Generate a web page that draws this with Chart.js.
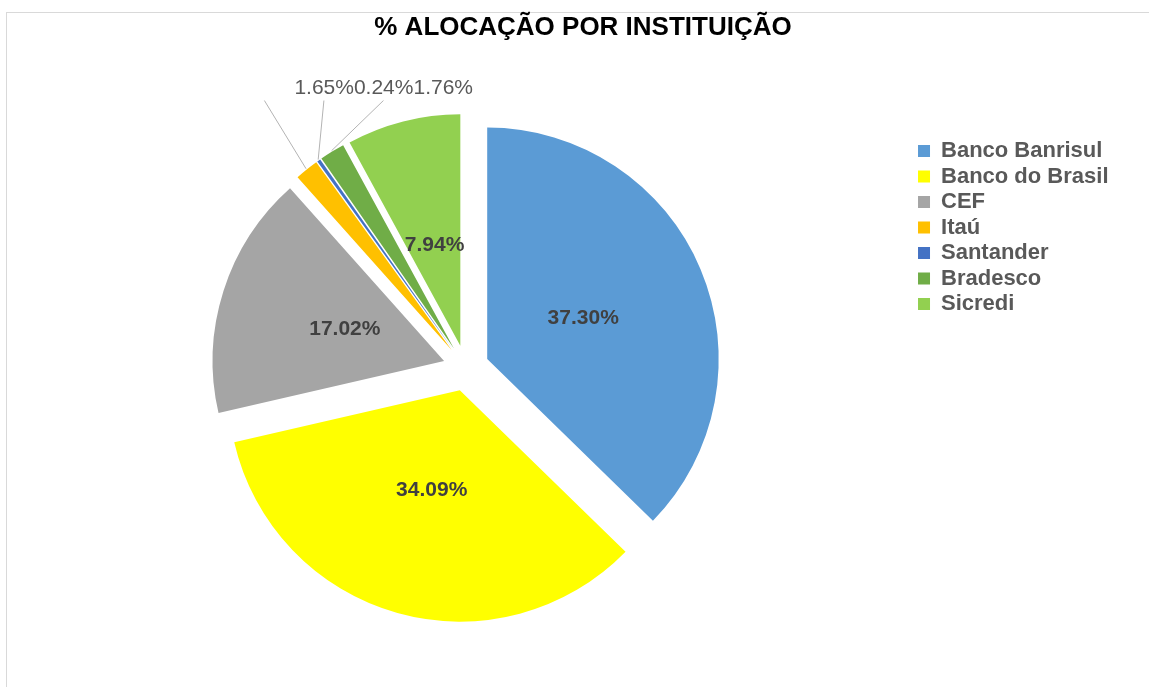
<!DOCTYPE html>
<html>
<head>
<meta charset="utf-8">
<title>% Alocação por Instituição</title>
<script src="https://cdn.jsdelivr.net/npm/chart.js@4.4.1/dist/chart.umd.min.js"></script>
<style>
  html, body { margin: 0; padding: 0; background: #fff; overflow: hidden; }
  #frame {
    position: absolute; left: 6px; top: 12px; width: 1200px; height: 700px;
    border-top: 1px solid #d9d9d9; border-left: 1px solid #d9d9d9;
  }
  #chart { position: absolute; left: 0; top: 0; }
</style>
</head>
<body>
<div id="frame"></div>
<canvas id="chart" width="1149" height="687"></canvas>
<script>
// values (percent of total)
const institutions = ['Banco Banrisul', 'Banco do Brasil', 'CEF', 'Itaú', 'Santander', 'Bradesco', 'Sicredi'];
const allocation = [37.30, 34.09, 17.02, 1.65, 0.24, 1.76, 7.94];
const sliceColors = ['#5B9BD5', '#FFFF00', '#A5A5A5', '#FFC000', '#4472C4', '#70AD47', '#92D050'];

const EXPLODE = 23;      // how far each slice is pulled out
const SMALL = 5;         // slices under this get their label outside

Chart.defaults.font.family = '"Liberation Sans", Arial, sans-serif';

// draw each arc moved out along its middle angle (Chart.js "offset" also grows small slices)
const explodePlugin = {
  id: 'explode',
  beforeDatasetDraw(chart, args) {
    const ctx = chart.ctx;
    args.meta.data.forEach(arc => {
      const mid = (arc.startAngle + arc.endAngle) / 2;
      ctx.save();
      ctx.translate(Math.cos(mid) * EXPLODE, Math.sin(mid) * EXPLODE);
      arc.draw(ctx);
      ctx.restore();
    });
    return false;
  }
};

// percent labels, inside for big slices, in a row above with leader lines for small ones
const labelPlugin = {
  id: 'pctLabels',
  afterDatasetsDraw(chart) {
    const ctx = chart.ctx;
    const arcs = chart.getDatasetMeta(0).data;
    const outside = [];
    ctx.save();
    ctx.textBaseline = 'middle';
    arcs.forEach((arc, i) => {
      const mid = (arc.startAngle + arc.endAngle) / 2;
      const r = arc.outerRadius;
      const vx = arc.x + Math.cos(mid) * EXPLODE;
      const vy = arc.y + Math.sin(mid) * EXPLODE;
      const text = allocation[i].toFixed(2) + '%';
      if (allocation[i] < SMALL) {
        outside.push({ text, ex: vx + Math.cos(mid) * (r + 1), ey: vy + Math.sin(mid) * (r + 1) });
        return;
      }
      ctx.font = 'bold 21px "Liberation Sans", Arial, sans-serif';
      ctx.fillStyle = '#404040';
      ctx.textAlign = 'center';
      ctx.fillText(text, vx + Math.cos(mid) * r * 0.45, vy + Math.sin(mid) * r * 0.45);
    });

    if (outside.length) {
      const a0 = arcs[0];
      ctx.font = '21px "Liberation Sans", Arial, sans-serif';
      const widths = outside.map(o => ctx.measureText(o.text).width);
      const total = widths.reduce((s, w) => s + w, 0);
      const y = a0.y - a0.outerRadius - 48;
      let x = a0.x + 7 - total;
      outside.forEach((o, k) => {
        ctx.strokeStyle = '#b3b3b3';
        ctx.lineWidth = 1;
        ctx.beginPath();
        ctx.moveTo(x - 30, y + 12);
        ctx.lineTo(o.ex, o.ey);
        ctx.stroke();
        ctx.fillStyle = '#595959';
        ctx.textAlign = 'left';
        ctx.fillText(o.text, x, y);
        x += widths[k];
      });
    }
    ctx.restore();
  }
};

// the title sits centred on the original chart frame, not on the plot + legend
const titleShift = {
  id: 'titleShift',
  afterLayout(chart) {
    chart.titleBlock.left += 15;
    chart.titleBlock.right += 15;
  }
};

new Chart(document.getElementById('chart'), {
  type: 'pie',
  data: {
    labels: institutions,
    datasets: [{
      data: allocation,
      backgroundColor: sliceColors,
      borderWidth: 0
    }]
  },
  options: {
    responsive: false,
    animation: false,
    layout: {
      padding: { left: 17.5, right: 30.5, top: 0, bottom: 87.5 }
    },
    plugins: {
      title: {
        display: true,
        text: '% ALOCAÇÃO POR INSTITUIÇÃO',
        color: '#000',
        font: { size: 26, weight: 'bold' },
        padding: { top: 12.4, bottom: 92.9 }
      },
      legend: {
        position: 'right',
        align: 'start',
        fullSize: false,
        labels: {
          boxWidth: 12,
          boxHeight: 12,
          padding: 3.5,
          color: '#595959',
          font: { size: 22, weight: 'bold' }
        }
      },
      tooltip: { enabled: false }
    }
  },
  plugins: [explodePlugin, labelPlugin, titleShift]
});
</script>
</body>
</html>
